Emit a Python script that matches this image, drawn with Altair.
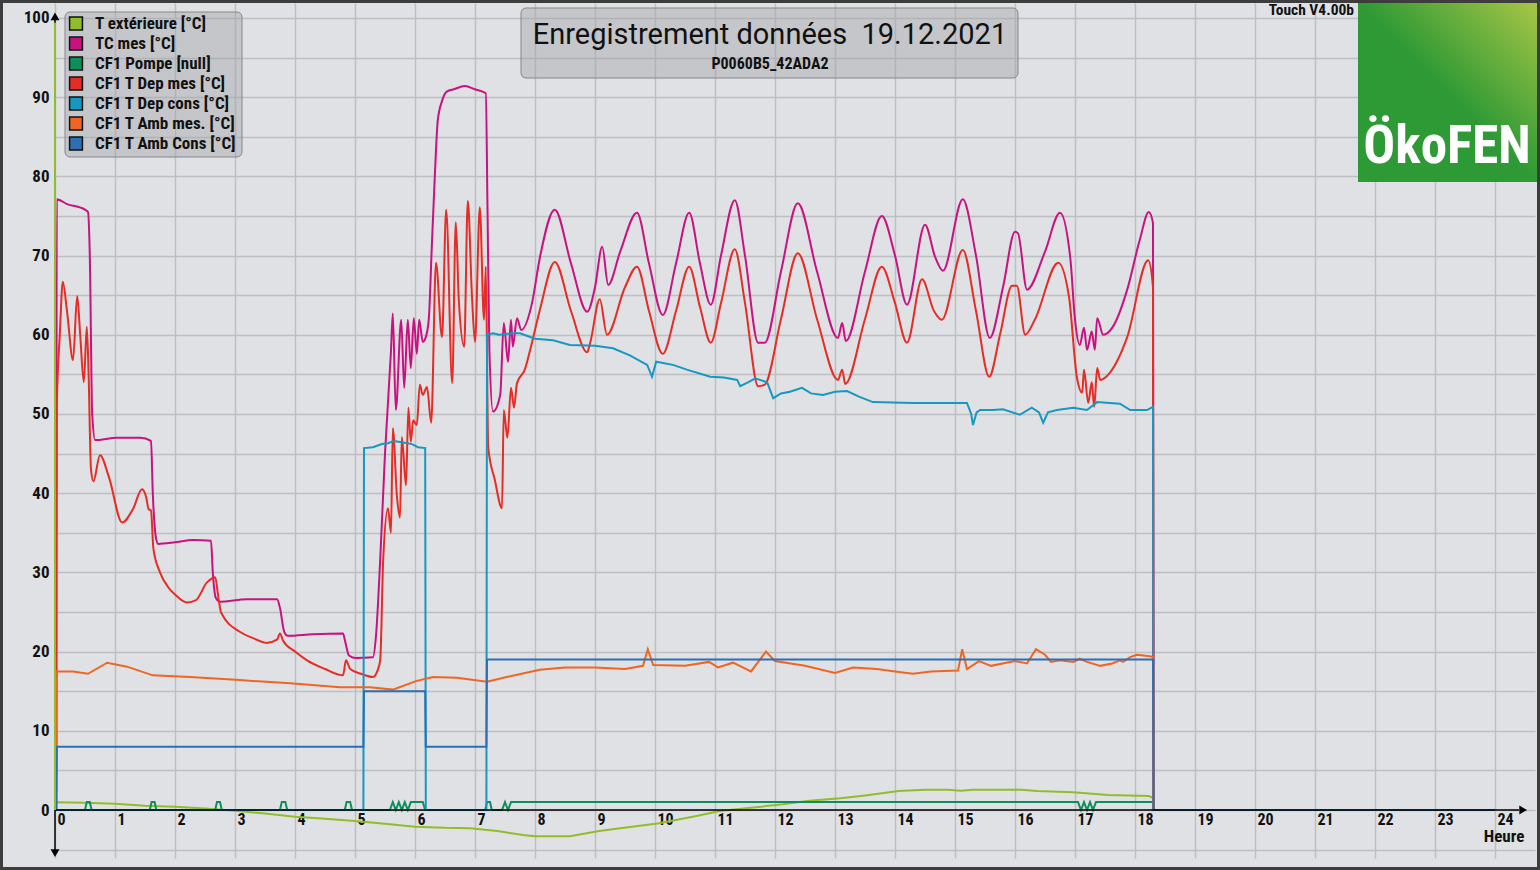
import altair as alt
import pandas as pd

# ---------------- data ----------------
series_names = ["T extérieure [°C]", "TC mes [°C]", "CF1 Pompe [null]", "CF1 T Dep mes [°C]",
                "CF1 T Dep cons [°C]", "CF1 T Amb mes. [°C]", "CF1 T Amb Cons [°C]"]
series_colors = ["#8fbe2a", "#c8127f", "#0c8f5c", "#e52c26", "#1698c0", "#ef6622", "#2c70b3"]

text_h = [0.03, 0.5, 1.0, 1.5, 2.0, 2.5, 3.0, 3.5, 4.0, 4.5, 5.0, 5.5, 6.0, 6.5, 6.92, 7.37, 7.8, 8.0,
          8.58, 9.07, 9.52, 10.04, 10.63, 11.08, 11.68, 12.13, 12.57, 13.09, 13.47, 14.06, 14.5, 14.88,
          15.1, 15.3, 16.1, 16.37, 16.97, 17.55, 18.23, 18.3, 18.31]
text_v = [0.97, 0.9, 0.8, 0.55, 0.42, 0.2, -0.1, -0.45, -0.85, -1.1, -1.4, -1.75, -2.1, -2.25, -2.3, -2.65,
          -3.15, -3.3, -3.3, -2.65, -2.2, -1.7, -0.85, -0.13, 0.34, 0.72, 1.18, 1.47, 1.8, 2.4, 2.57, 2.57,
          2.44, 2.57, 2.57, 2.4, 2.23, 1.9, 1.77, 1.55, 0]

tc_h = [0.02, 0.03, 0.2, 0.5, 0.55, 0.58, 0.62, 0.67, 1.03, 1.42, 1.6, 1.63, 1.68, 1.72, 2.0, 2.3, 2.6,
        2.63, 2.68, 2.75, 3.2, 3.7, 3.75, 3.82, 3.88, 4.3, 4.8, 4.83, 4.9, 5.0, 5.3, 5.35, 5.42, 5.5, 5.6,
        5.63, 5.68, 5.77, 5.82, 5.88, 5.93, 5.98, 6.03, 6.07, 6.13, 6.18, 6.23, 6.28, 6.33, 6.38, 6.45,
        6.53, 6.65, 6.83, 7.0, 7.18, 7.21, 7.24, 7.3, 7.42, 7.48, 7.55, 7.6, 7.63, 7.7, 7.77, 7.95, 8.08,
        8.33, 8.6, 8.87, 9.0, 9.12, 9.22, 9.42, 9.7, 9.9, 10.13, 10.35, 10.57, 10.75, 10.93, 11.1, 11.33,
        11.5, 11.72, 11.83, 12.1, 12.38, 12.7, 13.05, 13.12, 13.18, 13.5, 13.78, 14.0, 14.2, 14.5, 14.67,
        14.8, 15.13, 15.35, 15.58, 15.8, 16.0, 16.05, 16.2, 16.5, 16.75, 16.92, 17.0, 17.08, 17.15, 17.2,
        17.28, 17.33, 17.37, 17.47, 17.63, 17.87, 18.08, 18.23, 18.3, 18.31]
tc_v = [0, 77.1, 76.5, 75.8, 75.5, 70, 50, 46.7, 47.0, 47.0, 46.6, 40, 34.5, 33.6, 33.8, 34.1, 34.0,
        30, 26.8, 26.3, 26.6, 26.6, 25.5, 22.5, 22.0, 22.2, 22.3, 21.5, 19.5, 19.2, 19.3, 22, 31.6, 45, 58,
        62.7, 50.5, 61.9, 53.3, 61.9, 55.8, 62.1, 57.6, 61.9, 59.1, 59.7, 62, 71.1, 80, 87.1, 89.5,
        90.7, 91.0, 91.4, 91.0, 90.5, 75, 58, 50.3, 52.4, 61.5, 56.6, 61.9, 58.5, 62.1, 60.6, 64.0, 69.7,
        75.8, 69, 62.9, 66, 71.1, 66.3, 70.5, 75.4, 69, 62.5, 69, 75.4, 69, 63.8, 70, 77.0,
        70, 59.0, 59.0, 68, 76.6, 68, 59.6, 61.5, 59.2, 68, 75.0, 70, 63.8, 73.9, 69.8,
        68.1, 77.1, 70, 59.6, 66, 73.0, 72.8, 65.7, 70.5, 75.4, 69.8, 61.9, 58.7, 60.9, 58.1,
        60.4, 58.1, 62.1, 60.0, 61.0, 65.7, 72.0, 75.5, 74.1, 0]

pompe_h = [0.02, 0.5, 0.53, 0.58, 0.61, 1.58, 1.61, 1.66, 1.69, 2.67, 2.7, 2.75, 2.78, 3.75, 3.78, 3.84,
           3.87, 4.83, 4.86, 4.92, 4.95, 5.58, 5.63, 5.68, 5.73, 5.78, 5.83, 5.88, 5.93, 6.13, 6.17, 7.17,
           7.2, 7.25, 7.28, 7.45, 7.5, 7.55, 7.6, 7.7, 17.05, 17.1, 17.15, 17.2, 17.25, 17.3, 17.35, 18.3,
           18.31]
pompe_v = [0, 0, 1, 1, 0, 0, 1, 1, 0, 0, 1, 1, 0, 0, 1, 1,
           0, 0, 1, 1, 0, 0, 1, 0, 1, 0, 1, 0, 1, 1, 0, 0,
           1, 1, 0, 0, 1, 0, 1, 1, 1, 0, 1, 0, 1, 0, 1, 1,
           0]

dep_h = [0.02, 0.03, 0.08, 0.13, 0.2, 0.3, 0.37, 0.42, 0.48, 0.53, 0.56, 0.6, 0.64, 0.75, 0.9, 1.12,
         1.3, 1.45, 1.52, 1.56, 1.6, 1.64, 1.75, 1.9, 2.0, 2.2, 2.35, 2.53, 2.67, 2.72, 2.77, 3.08, 3.3,
         3.53, 3.7, 3.75, 3.8, 4.0, 4.2, 4.5, 4.8, 4.85, 4.92, 5.1, 5.3, 5.37, 5.42, 5.47, 5.55, 5.6,
         5.63, 5.7, 5.75, 5.78, 5.85, 5.89, 5.93, 5.97, 6.03, 6.08, 6.13, 6.2, 6.27, 6.35, 6.45, 6.52,
         6.62, 6.68, 6.73, 6.82, 6.88, 6.95, 7.0, 7.08, 7.15, 7.18, 7.22, 7.33, 7.45, 7.48, 7.54, 7.6,
         7.65, 7.7, 7.83, 7.92, 8.08, 8.33, 8.6, 8.87, 8.92, 9.08, 9.2, 9.5, 9.7, 9.9, 10.13, 10.35,
         10.57, 10.75, 10.93, 11.1, 11.33, 11.5, 11.72, 11.83, 12.1, 12.38, 12.7, 13.05, 13.12, 13.17,
         13.5, 13.78, 14.0, 14.2, 14.45, 14.65, 14.78, 15.13, 15.35, 15.57, 15.75, 15.95, 16.03, 16.17,
         16.33, 16.72, 16.9, 17.03, 17.12, 17.15, 17.22, 17.28, 17.32, 17.37, 17.42, 17.58, 17.87,
         18.22, 18.3, 18.31]
dep_v = [0, 51, 60, 66.7, 63, 56.8, 64.9, 60, 54.0, 61.0, 55, 43, 41.5, 44.8, 42, 36.3,
         38, 40.5, 39.5, 38, 37.8, 33, 30, 28, 27.2, 26.2, 26.5, 28.7, 29.4, 27, 24.9, 22.5, 21.7,
         21.1, 21.5, 22.3, 21.4, 20, 18.9, 17.8, 17.0, 18.9, 17.8, 17.2, 16.8, 17.5, 18.9, 31.6, 38.1, 35.0,
         48.2, 39.5, 36.9, 47.1, 41.0, 50.8, 46.5, 49.2, 48.6, 53.7, 52.4, 53.4, 48.9, 69.1, 59.7, 75.8,
         53.9, 74.2, 64.4, 58.5, 76.9, 64.8, 59.1, 76.1, 61.9, 68.6, 45.8, 41.7, 38.1, 50.5, 47.0, 53.3,
         50.8, 53.9, 55.6, 58.1, 63.1, 69.2, 63, 57.8, 59.0, 64.5, 60.0, 66.0, 68.6, 63, 57.6, 63,
         68.6, 63.5, 59.0, 64, 70.8, 64, 53.5, 53.7, 62, 70.3, 62, 54.3, 55.6, 53.8,
         62, 68.6, 64, 59.0, 67.0, 63, 61.9, 70.7, 63, 54.7, 60, 66.2, 66.2, 60.0,
         61.9, 69.1, 64.8, 54.7, 52.7, 55.6, 51.4, 54.0, 50.9, 55.8, 54.3, 55.2, 59.7,
         69.4, 66.0, 0]

cons_h = [0.0, 5.14, 5.15, 5.3, 5.45, 5.55, 5.65, 5.8, 5.95, 6.05, 6.17, 6.18, 7.19, 7.2, 7.3, 7.4,
          7.63, 7.75, 8.0, 8.3, 8.58, 9.0, 9.3, 9.58, 9.87, 9.95, 10.02, 10.3, 10.53, 10.92, 11.15,
          11.37, 11.42, 11.55, 11.67, 11.87, 11.97, 12.1, 12.25, 12.45, 12.6, 12.8, 13.0, 13.2, 13.4,
          13.63, 14.3, 14.8, 15.2, 15.27, 15.3, 15.36, 15.42, 15.63, 15.8, 16.08, 16.28, 16.4, 16.47,
          16.55, 16.7, 16.97, 17.2, 17.37, 17.58, 17.75, 17.92, 18.2, 18.3, 18.31]
cons_v = [0, 0, 45.7, 45.8, 46.2, 46.3, 46.6, 46.4, 46.2, 45.8, 45.7, 0, 0, 60.0, 60.2, 60.0,
          60.2, 60.2, 59.5, 59.3, 58.7, 58.6, 58.3, 57.4, 56.2, 54.7, 56.6, 56.2, 55.6, 54.7, 54.6,
          54.3, 53.5, 54.0, 54.5, 54.0, 52.0, 52.6, 52.8, 53.3, 52.6, 52.4, 52.8, 52.9, 52.2,
          51.5, 51.4, 51.4, 51.4, 50.0, 48.6, 50.2, 50.5, 50.5, 50.6, 49.9, 50.8, 50.2, 48.9,
          50.2, 50.5, 50.8, 50.5, 51.5, 51.4, 51.3, 50.5, 50.5, 50.9, 0]

amb_h = [0.02, 0.03, 0.3, 0.55, 0.87, 1.2, 1.63, 2.25, 3.08, 3.92, 4.75, 5.25, 5.63, 6.03, 6.3, 6.7,
         7.2, 7.53, 8.08, 8.5, 9.0, 9.5, 9.8, 9.88, 9.97, 10.5, 10.9, 11.05, 11.3, 11.6, 11.85, 12.0,
         12.5, 13.0, 13.3, 13.7, 14.0, 14.3, 14.6, 15.05, 15.12, 15.2, 15.4, 15.6, 16.0, 16.2, 16.35,
         16.5, 16.6, 16.75, 16.97, 17.08, 17.2, 17.42, 17.62, 17.75, 17.8, 17.92, 18.03, 18.25, 18.3,
         18.31]
amb_v = [0, 17.5, 17.5, 17.2, 18.6, 18.1, 17.0, 16.8, 16.4, 16.0, 15.5, 15.5, 15.2, 16.3, 16.8, 16.7,
         16.2, 16.8, 17.7, 18.0, 18.0, 17.8, 18.2, 20.3, 18.3, 18.2, 18.7, 18.0, 18.6, 17.5, 20.0, 18.8,
         18.2, 17.3, 18.0, 17.8, 17.5, 17.2, 17.5, 17.6, 20.3, 17.8, 18.8, 18.2, 18.8, 18.5, 20.3,
         19.6, 18.7, 18.9, 18.7, 19.1, 18.7, 18.2, 18.5, 18.9, 18.7, 19.3, 19.6, 19.4, 19.3,
         0]

ambc_h = [0.02, 0.03, 5.14, 5.15, 6.17, 6.18, 7.19, 7.2, 18.3, 18.31, 24.0]
ambc_v = [0, 8, 8, 15, 15, 8, 8, 19, 19, 0, 0]

x_ticks = list(range(0, 25))
y_grid = list(range(-5, 101, 5))

# ---------------- layout ----------------
FONT = "Roboto Condensed, Liberation Sans Narrow, DejaVu Sans Condensed, Arial Narrow, sans-serif"
W, H = 1480, 855
XDOM = [0, 24.6667]
YDOM = [-6.06, 101.89]

xs = alt.Scale(domain=XDOM, nice=False, zero=False)
ys = alt.Scale(domain=YDOM, nice=False, zero=False)

x_axis = alt.Axis(values=x_ticks, grid=True, gridColor="#bdbfc2", gridWidth=1.5, ticks=False,
                  domain=False, labelAlign="left", labelOffset=2, labelBaseline="top",
                  labelPadding=1, offset=-48, labelFont=FONT, labelFontSize=16,
                  labelFontWeight="bold", labelColor="#111111", title=None, labelFlush=False,
                  labelOverlap=False)
y_axis = alt.Axis(values=y_grid, grid=True, gridColor="#bdbfc2", gridWidth=1.5, ticks=False,
                  domain=False, labelPadding=6, labelFont=FONT, labelFontSize=17,
                  labelFontWeight="bold", labelColor="#111111", title=None, labelFlush=False,
                  labelOverlap=False,
                  labelExpr="datum.value >= 0 && datum.value % 10 == 0 ? datum.label : ''")

X = lambda: alt.X("hour:Q", scale=xs, axis=x_axis)
Y = lambda: alt.Y("value:Q", scale=ys, axis=y_axis)

one = pd.DataFrame({"k": [0]})

def line_layer(h, v, color, interp="linear"):
    df = pd.DataFrame({"hour": h, "value": v, "i": range(len(h))})
    return alt.Chart(df).mark_line(color=color, strokeWidth=2, interpolate=interp, clip=False).encode(
        x=X(), y=Y(), order="i:Q")

# decorative boxes (drawn first)
legend_bg = alt.Chart(one).mark_rect(fill="#a0a2a5", fillOpacity=0.42, stroke="#85878a",
                                      strokeWidth=1, cornerRadius=5).encode(
    x=alt.value(10), x2=alt.value(187), y=alt.value(9), y2=alt.value(154))
title_bg = alt.Chart(one).mark_rect(fill="#a0a2a5", fillOpacity=0.42, stroke="#85878a",
                                     strokeWidth=1, cornerRadius=5).encode(
    x=alt.value(466), x2=alt.value(963), y=alt.value(5), y2=alt.value(75))

# axis lines + arrows
ax_df_y = pd.DataFrame({"hour": [0, 0], "value": [-5.5, 100]})
yaxis_line = alt.Chart(ax_df_y).mark_line(color="black", strokeWidth=1.5).encode(x=X(), y=Y())
ax_df_x = pd.DataFrame({"hour": [0, 24.4], "value": [0, 0]})
xaxis_line = alt.Chart(ax_df_x).mark_line(color="black", strokeWidth=1.5).encode(x=X(), y=Y())
green_df = pd.DataFrame({"hour": [0, 0], "value": [0, 99.4]})
green_line = alt.Chart(green_df).mark_line(color=series_colors[0], strokeWidth=2).encode(x=X(), y=Y())

def arrow(h, v, shape):
    df = pd.DataFrame({"hour": [h], "value": [v]})
    return alt.Chart(df).mark_point(shape=shape, filled=True, color="black", opacity=1,
                                    size=80, clip=False).encode(x=X(), y=Y())

arr_up = arrow(0, 100.2, "triangle-up")
arr_down = arrow(0, -5.45, "triangle-down")
arr_right = arrow(24.47, 0, "triangle-right")

heure = alt.Chart(one).mark_text(text="Heure", font=FONT, fontSize=17, fontWeight="bold",
                                 color="#111111", align="center", baseline="alphabetic").encode(
    x=alt.value(1449), y=alt.value(839))

# series lines
lines = [
    line_layer(text_h, text_v, series_colors[0]),
    line_layer(tc_h, tc_v, series_colors[1], interp="monotone"),
    line_layer(pompe_h, pompe_v, series_colors[2]),
    line_layer(dep_h, dep_v, series_colors[3], interp="monotone"),
    line_layer(cons_h, cons_v, series_colors[4]),
    line_layer(amb_h, amb_v, series_colors[5]),
    line_layer(ambc_h, ambc_v, series_colors[6]),
]

# legend
leg_df = pd.DataFrame({"name": series_names, "color": series_colors,
                       "row": [20.5 + 20 * i for i in range(len(series_names))]})
leg_sw = alt.Chart(leg_df).mark_point(shape="square", filled=True, size=165, stroke="#111111",
                                      strokeWidth=1.5, opacity=1).encode(
    x=alt.value(21), y=alt.Y("row:Q", scale=None, axis=None),
    fill=alt.Fill("color:N", scale=None))
leg_tx = alt.Chart(leg_df).mark_text(font=FONT, fontSize=17, fontWeight="bold", color="#111111",
                                     align="left", baseline="middle").encode(
    x=alt.value(40), y=alt.Y("row:Q", scale=None, axis=None), text="name:N")

# title
title_tx = alt.Chart(one).mark_text(text="Enregistrement données\u00a0 19.12.2021", font="Roboto",
                                    fontSize=29, color="#111111", align="center",
                                    baseline="alphabetic").encode(x=alt.value(715), y=alt.value(41))
sub_tx = alt.Chart(one).mark_text(text="P0060B5_42ADA2", font=FONT, fontSize=16, fontWeight="bold",
                                  color="#111111", align="center", baseline="alphabetic").encode(
    x=alt.value(715), y=alt.value(66))
touch_tx = alt.Chart(one).mark_text(text="Touch V4.00b", font=FONT, fontSize=15.5, fontWeight="bold",
                                    color="#111111", align="right", baseline="alphabetic").encode(
    x=alt.value(1299), y=alt.value(12))

# logo
grad = alt.LinearGradient(gradient="linear", x1=0, y1=1, x2=1, y2=0,
                          stops=[alt.GradientStop(color="#2e9a35", offset=0),
                                 alt.GradientStop(color="#2f9a35", offset=0.5),
                                 alt.GradientStop(color="#a8c646", offset=1)])
logo_bg = alt.Chart(one).mark_rect(color=grad).encode(
    x=alt.value(1303), x2=alt.value(1483), y=alt.value(-1), y2=alt.value(179))
logo_tx = alt.Chart(one).mark_text(text="ÖkoFEN", font=FONT, fontSize=53, fontWeight="bold",
                                   color="white", align="center", baseline="alphabetic").encode(
    x=alt.value(1392), y=alt.value(160))

# outer frame
frame = alt.Chart(one).mark_rect(filled=False, stroke="#3d3d3d", strokeWidth=3).encode(
    x=alt.value(-53.5), x2=alt.value(1483.5), y=alt.value(-1.5), y2=alt.value(865.5))

chart = alt.layer(
    legend_bg, title_bg, *lines, yaxis_line, xaxis_line, green_line, arr_up, arr_down, arr_right,
    heure, leg_sw, leg_tx, title_tx, sub_tx, touch_tx, logo_bg, logo_tx, frame
).properties(
    width=W, height=H,
    padding={"left": 55, "top": 3, "right": 5, "bottom": 12},
    autosize=alt.AutoSizeParams(type="none"),
    background="#dfe1e4",
).configure_view(stroke=None, fill=None)

chart.save("out.html", embed_options={"renderer": "svg", "actions": False})
